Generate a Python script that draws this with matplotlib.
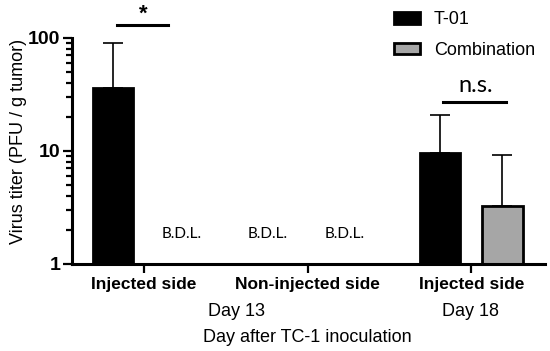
import matplotlib
matplotlib.use("Agg")
import matplotlib.pyplot as plt
import numpy as np
from matplotlib.patches import Patch

plt.rcParams['font.family'] = ['Liberation Sans', 'DejaVu Sans']

groups = ["Injected side", "Non-injected side", "Injected side"]
series = ["T-01", "Combination"]
t01_mean = [35.9, np.nan, 9.6]
t01_err_top = [90.3, np.nan, 20.7]
comb_mean = [np.nan, np.nan, 3.26]
comb_err_top = [np.nan, np.nan, 9.2]
bdl = [(0, "Combination"), (1, "T-01"), (1, "Combination")]
days = ["Day 13", "Day 18"]

fig = plt.figure(figsize=(5.5, 3.51), dpi=100)
ax = fig.add_axes([0.131, 0.249, 0.860, 0.6435])

x = np.arange(len(groups))
w = 0.245
off = 0.19
colors = {"T-01": "black", "Combination": "#a6a6a6"}

for s, means, tops, sign in [("T-01", t01_mean, t01_err_top, -1), ("Combination", comb_mean, comb_err_top, 1)]:
    for i in range(len(groups)):
        m = means[i]
        if np.isnan(m):
            continue
        xi = x[i] + sign * off
        ax.bar(xi, m - 1, width=w, bottom=1, color=colors[s], edgecolor="black", linewidth=2, zorder=2)
        ax.errorbar(xi, m, yerr=[[0], [tops[i] - m]], fmt="none", ecolor="black", elinewidth=1.2,
                    capsize=7, capthick=1.2, zorder=1)

for gi, s in bdl:
    dx = 0.227 if s == "Combination" else -0.245
    ax.text(x[gi] + dx, 1.83, "B.D.L.", ha="center", va="center", fontsize=11, family="Lato")

ax.set_yscale("log")
ax.set_ylim(1, 100)
ax.set_xlim(-0.44, 2.45)
ax.set_yticks([1, 10, 100])
ax.set_yticklabels(["1", "10", "100"], fontweight="bold", fontsize=14)
ax.set_xticks(x)
ax.set_xticklabels(groups, fontweight="bold", fontsize=12.5)
ax.tick_params(axis="both", which="major", length=6.5, width=1.6, direction="out", pad=2)
ax.tick_params(axis="y", which="minor", length=4.5, width=1.6)
ax.tick_params(axis="x", pad=3)
for sp in ["top", "right"]:
    ax.spines[sp].set_visible(False)
for sp in ["left", "bottom"]:
    ax.spines[sp].set_linewidth(2.2)

ax.set_ylabel("Virus titer (PFU / g tumor)", fontsize=13)
ax.yaxis.set_label_coords(-0.095, 0.539)

fig.text(237 / 550, 1 - 311 / 351, days[0], ha="center", va="center", fontsize=13)
fig.text(471 / 550, 1 - 311 / 351, days[1], ha="center", va="center", fontsize=13)
fig.text(307 / 550, 1 - 337 / 351, "Day after TC-1 inoculation", ha="center", va="center", fontsize=13)

# significance annotations
ax.plot([117 / 550, 168 / 550], [1 - 24.7 / 351] * 2, transform=fig.transFigure, color="black", lw=2.2, clip_on=False)
fig.text(143 / 550, 1 - 14 / 351, "*", ha="center", va="center", fontsize=16, fontweight="bold")
ax.plot([443 / 550, 506 / 550], [1 - 101.7 / 351] * 2, transform=fig.transFigure, color="black", lw=2.2, clip_on=False)
fig.text(476 / 550, 1 - 86 / 351, "n.s.", ha="center", va="center", fontsize=17, family="Lato")

handles = [Patch(facecolor=colors[s], edgecolor="black", linewidth=2) for s in series]
fig.legend(handles, series, loc="upper left", bbox_to_anchor=(387 / 550, 1 - 4 / 351), frameon=False,
           fontsize=13, handlelength=1.4, handleheight=0.6, labelspacing=0.75, handletextpad=0.8,
           borderaxespad=0)

fig.savefig("out.png", dpi=100)
